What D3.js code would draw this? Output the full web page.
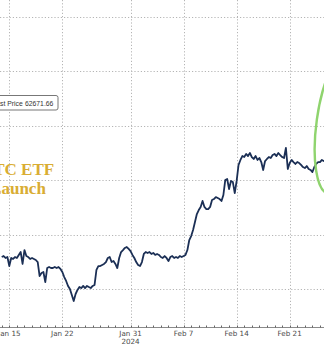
<!DOCTYPE html>
<html>
<head>
<meta charset="utf-8">
<script src="https://cdn.jsdelivr.net/npm/d3@7"></script>
<style>
  body { margin: 0; background: #fff; }
  svg { display: block; }
</style>
</head>
<body>
<svg id="chart" width="324" height="345"></svg>
<script>
// daily rows, four readings per day (00h, 06h, 12h, 18h)
var days = ["2024-01-14","2024-01-15","2024-01-16","2024-01-17","2024-01-18","2024-01-19",
  "2024-01-20","2024-01-21","2024-01-22","2024-01-23","2024-01-24","2024-01-25","2024-01-26",
  "2024-01-27","2024-01-28","2024-01-29","2024-01-30","2024-01-31","2024-02-01","2024-02-02",
  "2024-02-03","2024-02-04","2024-02-05","2024-02-06","2024-02-07","2024-02-08","2024-02-09",
  "2024-02-10","2024-02-11","2024-02-12","2024-02-13","2024-02-14","2024-02-15","2024-02-16",
  "2024-02-17","2024-02-18","2024-02-19","2024-02-20","2024-02-21","2024-02-22","2024-02-23",
  "2024-02-24","2024-02-25","2024-02-26","2024-02-27","2024-02-28"];

var prices = [
  [42940, 43030, 42850, 42940],
  [42110, 42850, 42760, 42940],
  [42850, 43130, 43400, 42300],
  [43580, 43030, 42940, 42760],
  [42850, 42760, 42665, 42480],
  [41190, 41470, 41560, 40640],
  [41930, 42020, 41930, 41930],
  [42020, 41930, 42020, 41840],
  [41560, 41100, 40740, 40280],
  [40000, 39450, 38900, 39540],
  [39910, 40180, 40090, 40280],
  [40090, 40280, 40180, 40090],
  [40280, 40370, 41750, 42110],
  [42110, 42210, 42300, 42480],
  [42850, 42940, 42480, 42570],
  [42300, 41930, 42850, 43400],
  [43580, 43770, 43860, 43680],
  [43490, 43130, 42850, 42480],
  [42210, 42110, 42480, 43220],
  [43400, 43310, 43400, 43220],
  [43310, 43130, 43220, 43130],
  [42940, 42850, 43030, 42850],
  [42570, 42940, 43030, 42850],
  [42940, 42850, 43030, 42940],
  [43030, 43130, 43580, 44500],
  [44870, 45420, 46160, 46890],
  [47260, 47540, 48090, 47540],
  [47350, 47350, 47540, 48180],
  [48270, 48450, 48360, 48270],
  [48090, 48640, 50020, 50110],
  [49190, 49930, 49830, 48820],
  [49930, 51400, 51860, 52220],
  [52130, 52410, 52220, 52500],
  [52130, 51950, 52220, 51860],
  [52040, 51670, 50940, 51760],
  [51950, 52130, 52040, 52310],
  [52410, 52220, 52500, 52310],
  [52130, 52040, 52960, 51030],
  [51580, 51860, 51670, 51490],
  [51670, 51580, 51400, 51210],
  [51120, 51300, 51030, 50940],
  [50750, 51210, 51490, 51670],
  [51670, 51860, 51760, 51860],
  [51730, 51800, 52600, 54400],
  [54500, 56900, 57000, 57100],
  [57300, 59000, 62000, 62671.66]
];

var tickDates = ["2024-01-15","2024-01-22","2024-01-31","2024-02-07","2024-02-14","2024-02-21"];
var tickLabels = ["Jan 15","Jan 22","Jan 31","Feb 7","Feb 14","Feb 21"];
var yearLabel = "2024";
var priceTicks = [40000, 45000, 50000, 55000, 60000, 65000];
var legendLabel = "Last Price";
var noteLines = ["BTC ETF", "Launch"];

var parseDay = d3.timeParse("%Y-%m-%d");

var data = [];
days.forEach(function(d, i) {
  prices[i].forEach(function(v, j) {
    data.push({ date: d3.timeHour.offset(parseDay(d), j * 6), value: v });
  });
});

var svg = d3.select("#chart"),
    width = 324,
    axisY = 327.5;

var x = d3.scaleTime()
  .domain([parseDay("2024-01-15"), parseDay("2024-02-21")])
  .range([9.3, 289.7]);

var y = d3.scaleLinear()
  .domain([40000, 65000])
  .range([289, 17]);

// horizontal grid
svg.append("g")
  .selectAll("line")
  .data(priceTicks)
  .enter().append("line")
  .attr("x1", 0).attr("x2", width)
  .attr("y1", function(d) { return Math.round(y(d)) + 0.5; })
  .attr("y2", function(d) { return Math.round(y(d)) + 0.5; })
  .attr("stroke", "#b5b5b5")
  .attr("stroke-dasharray", "1.2,2");

// vertical grid
svg.append("g")
  .selectAll("line")
  .data(tickDates)
  .enter().append("line")
  .attr("x1", function(d) { return Math.round(x(parseDay(d))) + 0.5; })
  .attr("x2", function(d) { return Math.round(x(parseDay(d))) + 0.5; })
  .attr("y1", 0).attr("y2", axisY)
  .attr("stroke", "#b5b5b5")
  .attr("stroke-dasharray", "1.2,2");

// price line
svg.append("path")
  .datum(data)
  .attr("fill", "none")
  .attr("stroke", "#1b2f55")
  .attr("stroke-width", 1.8)
  .attr("stroke-linejoin", "round")
  .attr("d", d3.line()
    .x(function(d) { return x(d.date); })
    .y(function(d) { return y(d.value); }));

// green ellipse round the last move
var last = data[data.length - 1];
var ex = x(d3.timeHour.offset(last.date, -31)),
    ey = y(55300);
svg.append("ellipse")
  .attr("cx", ex).attr("cy", ey)
  .attr("rx", 22).attr("ry", 72)
  .attr("transform", "rotate(8," + ex + "," + ey + ")")
  .attr("fill", "none")
  .attr("stroke", "#8fd46e")
  .attr("stroke-width", 2.4);

// bottom axis
svg.append("line")
  .attr("x1", 0).attr("x2", width)
  .attr("y1", axisY).attr("y2", axisY)
  .attr("stroke", "#8a8a8a")
  .attr("stroke-width", 1);

svg.append("g")
  .selectAll("line")
  .data(d3.timeDay.range(parseDay("2024-01-13"), parseDay("2024-02-27")))
  .enter().append("line")
  .attr("x1", function(d) { return Math.round(x(d)) + 0.5; })
  .attr("x2", function(d) { return Math.round(x(d)) + 0.5; })
  .attr("y1", axisY - 2).attr("y2", axisY)
  .attr("stroke", "#666");

svg.append("g")
  .selectAll("text")
  .data(tickDates)
  .enter().append("text")
  .attr("x", function(d) { return x(parseDay(d)); })
  .attr("y", 336)
  .attr("text-anchor", "middle")
  .style("font-family", "DejaVu Sans, sans-serif")
  .style("font-size", "7.2px")
  .style("fill", "#4a4a4a")
  .text(function(d, i) { return tickLabels[i]; });

svg.append("text")
  .attr("x", x(parseDay("2024-01-31")))
  .attr("y", 343.5)
  .attr("text-anchor", "middle")
  .style("font-family", "DejaVu Sans, sans-serif")
  .style("font-size", "7.2px")
  .style("fill", "#4a4a4a")
  .text(yearLabel);

// legend box (cut by the left edge)
svg.append("rect")
  .attr("x", -12).attr("y", 95.5)
  .attr("width", 70).attr("height", 14.5)
  .attr("rx", 2)
  .attr("fill", "#fff")
  .attr("stroke", "#777");

svg.append("text")
  .attr("x", -7.5).attr("y", 105.5)
  .style("font-family", "Liberation Sans, sans-serif")
  .style("font-size", "6.8px")
  .style("fill", "#333")
  .text(legendLabel);

svg.append("text")
  .attr("x", 25).attr("y", 105.5)
  .style("font-family", "Liberation Sans, sans-serif")
  .style("font-size", "6.8px")
  .style("fill", "#333")
  .text(d3.format(".2f")(last.value));

// annotation
svg.append("g")
  .selectAll("text")
  .data(noteLines)
  .enter().append("text")
  .attr("x", 18)
  .attr("y", function(d, i) { return 174.5 + i * 19.5; })
  .attr("text-anchor", "middle")
  .style("font-family", "Liberation Serif, serif")
  .style("font-weight", "bold")
  .style("font-size", "17px")
  .style("fill", "#d9ad33")
  .text(function(d) { return d; });
</script>
</body>
</html>
